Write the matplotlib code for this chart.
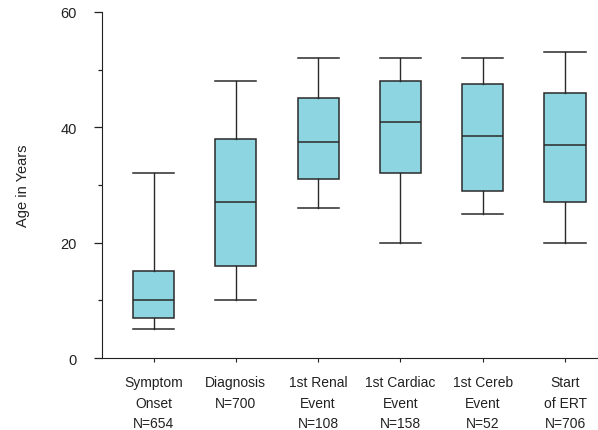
import matplotlib
matplotlib.use('Agg')
import matplotlib.pyplot as plt
from matplotlib.ticker import MultipleLocator

plt.rcParams['font.family'] = ['Liberation Sans', 'DejaVu Sans']

labels = ['Symptom\nOnset\nN=654', 'Diagnosis\nN=700', '1st Renal\nEvent\nN=108',
          '1st Cardiac\nEvent\nN=158', '1st Cereb\nEvent\nN=52', 'Start\nof ERT\nN=706']
whislo = [5, 10, 26, 20, 25, 20]
q1 = [7, 16, 31, 32, 29, 27]
med = [10, 27, 37.5, 41, 38.5, 37]
q3 = [15, 38, 45, 48, 47.5, 46]
whishi = [32, 48, 52, 52, 52, 53]

stats = []
for i in range(len(labels)):
    stats.append({'whislo': whislo[i], 'q1': q1[i], 'med': med[i],
                  'q3': q3[i], 'whishi': whishi[i], 'fliers': [],
                  'label': labels[i]})

fig = plt.figure(figsize=(5.98, 4.31), dpi=100)
ax = fig.add_axes([0.170, 0.167, 0.830, 0.803])

edge = '#2a2a2a'
ax.bxp(stats, positions=range(len(labels)), widths=0.5, patch_artist=True,
       showfliers=False,
       boxprops=dict(facecolor='#8dd5e0', edgecolor=edge, linewidth=1.1),
       medianprops=dict(color=edge, linewidth=1.1),
       whiskerprops=dict(color=edge, linewidth=1.0),
       capprops=dict(color=edge, linewidth=1.1),
       capwidths=0.5)

ax.set_xlim(-0.63, 5.4)
ax.set_ylim(0, 60)
ax.spines['right'].set_color('none')
ax.spines['top'].set_color('none')
ax.spines['left'].set_color('#222222')
ax.spines['bottom'].set_color('#222222')

ax.yaxis.set_major_locator(MultipleLocator(20))
ax.yaxis.set_minor_locator(MultipleLocator(10))
ax.tick_params(axis='y', which='major', length=6, width=0.9, pad=12,
               labelsize=10.5, colors='#222222')
ax.tick_params(axis='y', which='minor', length=3, width=0.9, colors='#222222')
ax.tick_params(axis='x', which='major', length=3, width=0.8, pad=9,
               labelsize=10, colors='#222222')
for t in ax.get_xticklabels():
    t.set_linespacing(1.62)

ax.set_ylabel('Age in Years', fontsize=10.5, color='#222222', labelpad=22)

plt.savefig('out.png', dpi=100)
